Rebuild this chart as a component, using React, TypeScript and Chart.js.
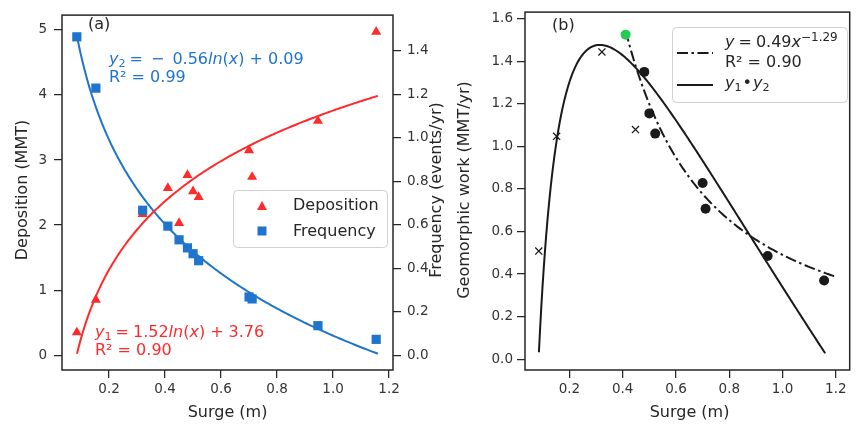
import React, { useEffect, useRef } from 'react';
import { Chart, registerables } from 'chart.js';

Chart.register(...registerables);

// ---------- data ----------
const SURGE = [0.085, 0.153, 0.32, 0.41, 0.45, 0.48, 0.5, 0.52, 0.7, 0.711, 0.946, 1.154];
const DEPOSITION = [0.35, 0.85, 2.17, 2.57, 2.03, 2.77, 2.52, 2.43, 3.15, 2.74, 3.6, 4.97];
const FREQUENCY = [1.465, 1.229, 0.667, 0.594, 0.531, 0.494, 0.467, 0.435, 0.268, 0.259, 0.136, 0.073];

const GREEN_SURGE = [0.411];
const GREEN_WORK = [1.525];
const DOT_SURGE = [0.481, 0.5, 0.522, 0.7, 0.711, 0.944, 1.156];
const DOT_WORK = [1.35, 1.155, 1.06, 0.828, 0.707, 0.485, 0.37];
const CROSS_SURGE = [0.085, 0.152, 0.322, 0.448];
const CROSS_WORK = [0.508, 1.047, 1.444, 1.079];

// fit coefficients shown in the chart
const Y1_COEF = [1.52, 3.76]; // y1 = a ln(x) + b
const Y2_COEF = [-0.56, 0.09]; // y2 = a ln(x) + b
const POW_COEF = [0.49, -1.29]; // y = a x^b

const FIT_RANGE_A = [0.0855, 1.16];
const FIT_RANGE_POW = [0.411, 1.2];

const X_TICKS = [0.2, 0.4, 0.6, 0.8, 1.0, 1.2];
const DEP_TICKS = [0, 1, 2, 3, 4, 5];
const FREQ_TICKS = [0, 0.2, 0.4, 0.6, 0.8, 1.0, 1.2, 1.4];
const WORK_TICKS = [0, 0.2, 0.4, 0.6, 0.8, 1.0, 1.2, 1.4, 1.6];

// ---------- styles ----------
const FONT = 'DejaVu Sans';
const INK = '#262626';
const TICK_INK = '#333333';
const RED = '#ff2a2a';
const BLUE = '#1f74cc';
const GREEN = '#22cc55';
const BLACK = '#1a1a1a';

function sampleX(range: number[], n: number) {
  const out: number[] = [];
  for (let i = 0; i <= n; i++) out.push(range[0] + ((range[1] - range[0]) * i) / n);
  return out;
}
const lnFit = (c: number[]) => (x: number) => c[0] * Math.log(x) + c[1];
const powFit = (c: number[]) => (x: number) => c[0] * Math.pow(x, c[1]);

type Piece = [string, string] | number;
function drawMath(ctx: CanvasRenderingContext2D, x: number, y: number, pieces: Piece[], size: number, color: string) {
  let cx = x;
  ctx.save();
  ctx.fillStyle = color;
  ctx.textAlign = 'left';
  ctx.textBaseline = 'alphabetic';
  for (const p of pieces) {
    if (typeof p === 'number') { cx += p; continue; }
    const [t, s] = p;
    let fs = size, dy = 0, style = '';
    if (s === 'i') style = 'italic ';
    if (s === 'sub') { fs = size * 0.7; dy = size * 0.2; }
    if (s === 'sup') { fs = size * 0.75; dy = -size * 0.38; }
    ctx.font = `${style}${fs}px "${FONT}"`;
    ctx.fillText(t, cx, y + dy);
    cx += ctx.measureText(t).width;
  }
  ctx.restore();
}

function vText(ctx: CanvasRenderingContext2D, text: string, baselineX: number, centerY: number) {
  ctx.save();
  ctx.translate(baselineX, centerY);
  ctx.rotate(-Math.PI / 2);
  ctx.font = `16px "${FONT}"`;
  ctx.fillStyle = INK;
  ctx.textAlign = 'center';
  ctx.textBaseline = 'alphabetic';
  ctx.fillText(text, 0, 0);
  ctx.restore();
}

function hText(ctx: CanvasRenderingContext2D, text: string, x: number, y: number, align: CanvasTextAlign = 'left', size = 16) {
  ctx.save();
  ctx.font = `${size}px "${FONT}"`;
  ctx.fillStyle = INK;
  ctx.textAlign = align;
  ctx.textBaseline = 'alphabetic';
  ctx.fillText(text, x, y);
  ctx.restore();
}

function frame(chart: any) {
  const { ctx, chartArea: a } = chart;
  ctx.save();
  ctx.strokeStyle = INK;
  ctx.lineWidth = 1.5;
  ctx.strokeRect(a.left, a.top, a.right - a.left, a.bottom - a.top);
  ctx.restore();
}

function legendBox(ctx: CanvasRenderingContext2D, x: number, y: number, w: number, h: number) {
  ctx.save();
  ctx.beginPath();
  (ctx as any).roundRect(x + 0.5, y + 0.5, w, h, 4);
  ctx.fillStyle = 'rgba(255,255,255,0.85)';
  ctx.fill();
  ctx.strokeStyle = '#d0d0d0';
  ctx.lineWidth = 1;
  ctx.stroke();
  ctx.restore();
}

const tickFont = { family: FONT, size: 13.5 };
const gridCfg = { display: true, drawOnChartArea: false, drawTicks: true, tickLength: 8, color: INK, lineWidth: 1.25 };

function linearAxis(extra: any, ticks: number[], fmt: (v: number) => string, pad: number) {
  return {
    type: 'linear',
    afterBuildTicks: (s: any) => { s.ticks = ticks.map((v) => ({ value: v })); },
    ticks: { callback: (v: any) => fmt(Number(v)), font: tickFont, color: TICK_INK, padding: pad, autoSkip: false, maxRotation: 0 },
    grid: gridCfg,
    border: { display: false },
    title: { display: false },
    ...extra,
  };
}

const pluginA = {
  id: 'panelA',
  afterDraw(chart: any) {
    const ctx = chart.ctx as CanvasRenderingContext2D;
    frame(chart);
    hText(ctx, '(a)', 88, 29);
    vText(ctx, 'Deposition (MMT)', 27, 190);
    vText(ctx, 'Frequency (events/yr)', 441, 190);
    hText(ctx, 'Surge (m)', 227.5, 417, 'center');
    drawMath(ctx, 109, 64, [['y', 'i'], ['2', 'sub'], 4, ['=', 'n'], 8, ['\u2212', 'n'], 8,
      [Math.abs(Y2_COEF[0]).toFixed(2), 'n'], ['ln', 'i'], ['(', 'n'], ['x', 'i'], [')', 'n'], 5, ['+', 'n'], 5, [Y2_COEF[1].toFixed(2), 'n']], 16, BLUE);
    drawMath(ctx, 109, 82, [['R\u00b2 = 0.99', 'n']], 16, BLUE);
    drawMath(ctx, 95, 337, [['y', 'i'], ['1', 'sub'], 4, ['=', 'n'], 4, [Y1_COEF[0].toFixed(2), 'n'], ['ln', 'i'], ['(', 'n'], ['x', 'i'], [')', 'n'], 5, ['+', 'n'], 5, [Y1_COEF[1].toFixed(2), 'n']], 16, RED);
    drawMath(ctx, 95, 355, [['R\u00b2 = 0.90', 'n']], 16, RED);
    // legend
    legendBox(ctx, 233, 190, 154, 57);
    ctx.save();
    ctx.fillStyle = RED;
    ctx.beginPath();
    ctx.moveTo(262, 201); ctx.lineTo(267, 210); ctx.lineTo(257, 210); ctx.closePath(); ctx.fill();
    ctx.fillStyle = BLUE;
    ctx.fillRect(257.5, 226.5, 9, 9);
    ctx.restore();
    hText(ctx, 'Deposition', 293, 210);
    hText(ctx, 'Frequency', 293, 236);
  },
};

const pluginB = {
  id: 'panelB',
  afterDraw(chart: any) {
    const ctx = chart.ctx as CanvasRenderingContext2D;
    frame(chart);
    const o = 452;
    hText(ctx, '(b)', 552 - o, 30);
    vText(ctx, 'Geomorphic work (MMT/yr)', 469 - o, 190);
    hText(ctx, 'Surge (m)', 689.5 - o, 417, 'center');
    legendBox(ctx, 672 - o, 27, 175, 75);
    ctx.save();
    ctx.strokeStyle = BLACK;
    ctx.lineWidth = 2;
    ctx.setLineDash([11, 3.5, 2.5, 3.5]);
    ctx.beginPath(); ctx.moveTo(677 - o, 53); ctx.lineTo(713 - o, 53); ctx.stroke();
    ctx.setLineDash([]);
    ctx.beginPath(); ctx.moveTo(677 - o, 85); ctx.lineTo(713 - o, 85); ctx.stroke();
    ctx.restore();
    drawMath(ctx, 725 - o, 47, [['y', 'i'], 4, ['=', 'n'], 4, [POW_COEF[0].toFixed(2), 'n'], ['x', 'i'], ['\u2212' + Math.abs(POW_COEF[1]).toFixed(2), 'sup']], 16, INK);
    drawMath(ctx, 725 - o, 67, [['R\u00b2 = 0.90', 'n']], 16, INK);
    drawMath(ctx, 725 - o, 88, [['y', 'i'], ['1', 'sub'], 1, ['\u2022', 'n'], 1, ['y', 'i'], ['2', 'sub']], 16, INK);
  },
};

export default function App() {
  const refA = useRef<HTMLCanvasElement>(null);
  const refB = useRef<HTMLCanvasElement>(null);

  useEffect(() => {
    Chart.defaults.font.family = FONT;
    const y1 = lnFit(Y1_COEF), y2 = lnFit(Y2_COEF), yp = powFit(POW_COEF);
    const fitX = sampleX(FIT_RANGE_A, 240);
    const powX = sampleX(FIT_RANGE_POW, 160);
    const pts = (xs: number[], ys: number[]) => xs.map((x, i) => ({ x, y: ys[i] }));

    const chartA = new Chart(refA.current!, {
      type: 'scatter',
      data: {
        datasets: [
          { label: 'Frequency', data: pts(SURGE, FREQUENCY), yAxisID: 'y1', pointStyle: 'rect', pointRadius: 6.5, backgroundColor: BLUE, borderWidth: 0, order: 0 },
          { label: 'Deposition', data: pts(SURGE, DEPOSITION), yAxisID: 'y', pointStyle: 'triangle', pointRadius: 5.8, backgroundColor: RED, borderWidth: 0, order: 1 },
          { label: 'fit1', data: fitX.map((x) => ({ x, y: y1(x) })), yAxisID: 'y', showLine: true, pointRadius: 0, borderColor: RED, borderWidth: 2, order: 2 },
          { label: 'fit2', data: fitX.map((x) => ({ x, y: y2(x) })), yAxisID: 'y1', showLine: true, pointRadius: 0, borderColor: BLUE, borderWidth: 2, order: 3 },
        ],
      } as any,
      options: {
        responsive: false,
        animation: false,
        devicePixelRatio: 1,
        layout: { padding: { top: 10, left: 0, right: 0, bottom: 0 } },
        plugins: { legend: { display: false }, tooltip: { enabled: false } },
        scales: {
          x: linearAxis({ position: 'bottom', min: 0.032, max: 1.214, afterFit: (s: any) => { s.height = 55; } }, X_TICKS, (v) => v.toFixed(1), 3),
          y: linearAxis({ position: 'left', min: -0.227, max: 5.227, afterFit: (s: any) => { s.width = 62; } }, DEP_TICKS, (v) => String(Math.round(v)), 7),
          y1: linearAxis({ position: 'right', min: -0.068, max: 1.565, afterFit: (s: any) => { s.width = 59; } }, FREQ_TICKS, (v) => v.toFixed(1), 6),
        },
      } as any,
      plugins: [pluginA],
    });

    const chartB = new Chart(refB.current!, {
      type: 'scatter',
      data: {
        datasets: [
          { label: 'green', data: pts(GREEN_SURGE, GREEN_WORK), pointStyle: 'circle', pointRadius: 5, backgroundColor: GREEN, borderWidth: 0, order: 0 },
          { label: 'dots', data: pts(DOT_SURGE, DOT_WORK), pointStyle: 'circle', pointRadius: 5, backgroundColor: BLACK, borderWidth: 0, order: 1 },
          { label: 'cross', data: pts(CROSS_SURGE, CROSS_WORK), pointStyle: 'crossRot', pointRadius: 5, borderColor: BLACK, borderWidth: 1.3, order: 2 },
          { label: 'pow', data: powX.map((x) => ({ x, y: yp(x) })), showLine: true, pointRadius: 0, borderColor: BLACK, borderWidth: 2, borderDash: [11, 3.5, 2.5, 3.5], order: 3 },
          { label: 'prod', data: fitX.map((x) => ({ x, y: y1(x) * y2(x) })), showLine: true, pointRadius: 0, borderColor: BLACK, borderWidth: 2, order: 4 },
        ],
      } as any,
      options: {
        responsive: false,
        animation: false,
        devicePixelRatio: 1,
        layout: { padding: { top: 10, left: 0, right: 2, bottom: 0 } },
        plugins: { legend: { display: false }, tooltip: { enabled: false } },
        scales: {
          x: linearAxis({ position: 'bottom', min: 0.0333, max: 1.252, afterFit: (s: any) => { s.height = 55; } }, X_TICKS, (v) => v.toFixed(1), 3),
          y: linearAxis({ position: 'left', min: -0.051, max: 1.631, afterFit: (s: any) => { s.width = 73; } }, WORK_TICKS, (v) => v.toFixed(1), 4),
        },
      } as any,
      plugins: [pluginB],
    });

    return () => { chartA.destroy(); chartB.destroy(); };
  }, []);

  return (
    <div style={{ position: 'absolute', left: 0, top: 0, width: 856, height: 425, background: '#fff', overflow: 'hidden' }}>
      <canvas ref={refA} width={452} height={425} style={{ position: 'absolute', left: 0, top: 0, display: 'block' }} />
      <canvas ref={refB} width={404} height={425} style={{ position: 'absolute', left: 452, top: 0, display: 'block' }} />
    </div>
  );
}
